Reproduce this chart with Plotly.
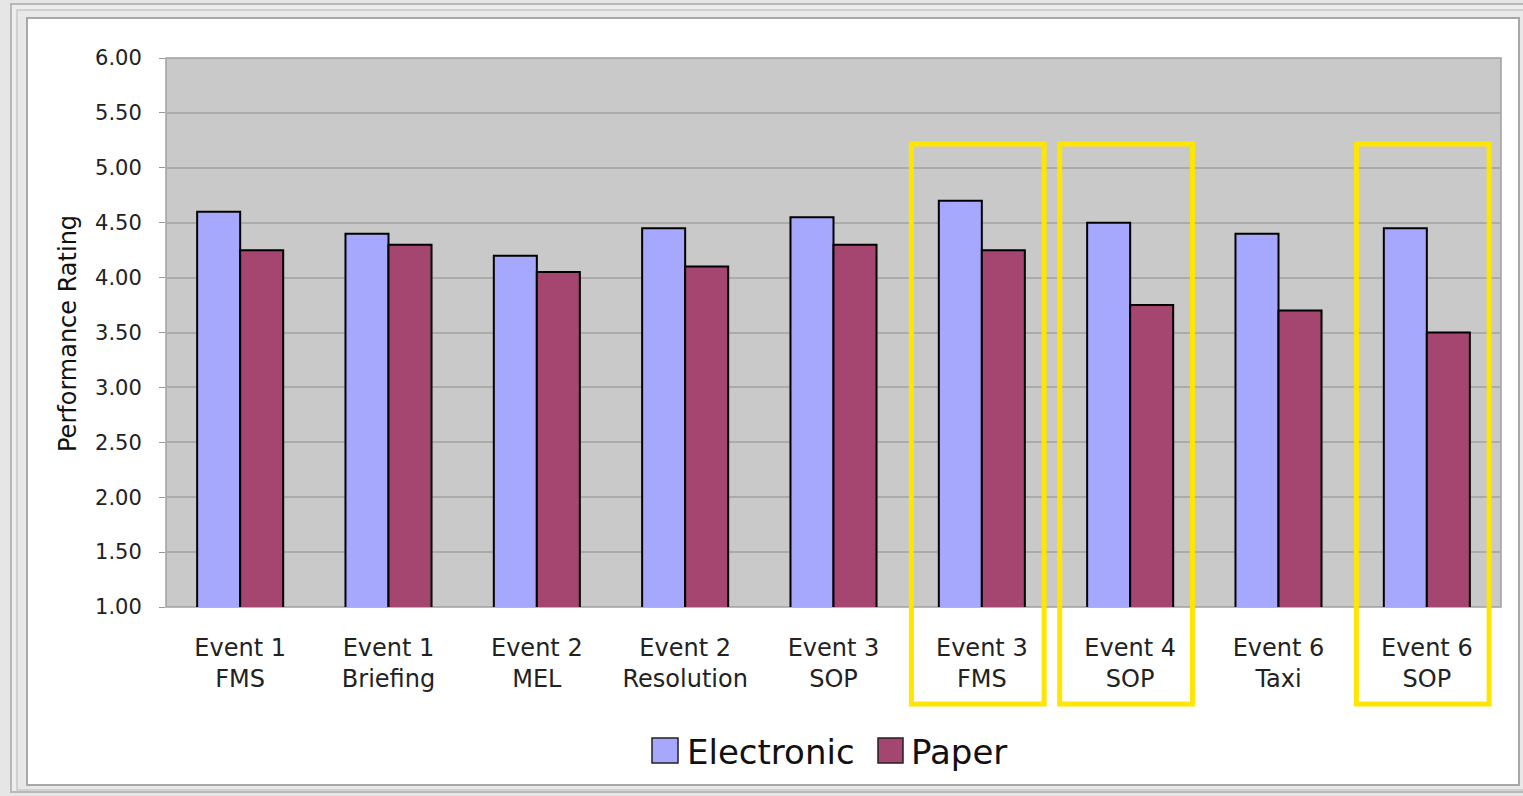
import plotly.graph_objects as go

categories = ["Event 1<br>FMS", "Event 1<br>Briefing", "Event 2<br>MEL", "Event 2<br>Resolution",
              "Event 3<br>SOP", "Event 3<br>FMS", "Event 4<br>SOP", "Event 6<br>Taxi", "Event 6<br>SOP"]
electronic = [4.60, 4.40, 4.20, 4.45, 4.55, 4.70, 4.50, 4.40, 4.45]
paper = [4.25, 4.30, 4.05, 4.10, 4.30, 4.25, 3.75, 3.70, 3.50]
y_ticks = [1.0, 1.5, 2.0, 2.5, 3.0, 3.5, 4.0, 4.5, 5.0, 5.5, 6.0]
highlighted = [5, 6, 8]

W, H = 1523, 796
L, R, T, B = 166, 1501, 58, 607


def px(x):
    return (x - L) / (R - L)


def py(y):
    return (B - y) / (B - T)


E_COL = "#A6A8FE"
P_COL = "#A54670"
FONT = "DejaVu Sans"

fig = go.Figure()
fig.add_trace(go.Bar(x=categories, y=electronic, name="Electronic", marker_color=E_COL,
                     marker_line=dict(color="#000000", width=2), showlegend=False))
fig.add_trace(go.Bar(x=categories, y=paper, name="Paper", marker_color=P_COL,
                     marker_line=dict(color="#000000", width=2), showlegend=False))

shapes = []
# outer frame
shapes.append(dict(type="rect", xref="paper", yref="paper", x0=px(11), x1=px(1530), y0=py(4), y1=py(792),
                   line=dict(color="#B8B8B8", width=2), fillcolor="#EDEDED", layer="below"))
shapes.append(dict(type="rect", xref="paper", yref="paper", x0=px(17), x1=px(1530), y0=py(10), y1=py(790),
                   line=dict(color="#C8C8C8", width=1.5), fillcolor="#E8E8E8", layer="below"))
# white chart box
shapes.append(dict(type="rect", xref="paper", yref="paper", x0=px(27), x1=px(1519), y0=py(18), y1=py(785),
                   line=dict(color="#A8A8A8", width=2), fillcolor="#FFFFFF", layer="below"))
# plot area
shapes.append(dict(type="rect", xref="paper", yref="paper", x0=0, x1=1, y0=0, y1=1,
                   line=dict(color="#A0A0A0", width=1.5), fillcolor="#C9C9C9", layer="below"))
# highlight boxes
for idx in highlighted:
    shapes.append(dict(type="rect", xref="x", yref="paper", x0=idx - 0.475, x1=idx + 0.42,
                       y0=py(704), y1=py(144), line=dict(color="#FFE600", width=5),
                       fillcolor="rgba(0,0,0,0)", layer="above"))
# legend swatches
shapes.append(dict(type="rect", xref="paper", yref="paper", x0=px(652), x1=px(678), y0=py(763), y1=py(738),
                   line=dict(color="#222222", width=1.5), fillcolor=E_COL))
shapes.append(dict(type="rect", xref="paper", yref="paper", x0=px(878), x1=px(903), y0=py(763), y1=py(738),
                   line=dict(color="#222222", width=1.5), fillcolor=P_COL))

annotations = [
    dict(text="Performance Rating", xref="paper", yref="paper", x=px(68), y=py(334), textangle=-90,
         showarrow=False, xanchor="center", yanchor="middle", font=dict(family=FONT, size=24, color="#111111")),
    dict(text="Electronic", xref="paper", yref="paper", x=px(685), y=py(752), showarrow=False,
         xanchor="left", yanchor="middle", font=dict(family=FONT, size=34, color="#111111")),
    dict(text="Paper", xref="paper", yref="paper", x=px(909), y=py(752), showarrow=False,
         xanchor="left", yanchor="middle", font=dict(family=FONT, size=34, color="#111111")),
]

fig.update_layout(
    width=W, height=H,
    margin=dict(l=L, r=W - R, t=T, b=H - B, pad=0),
    paper_bgcolor="#E6E6E6",
    plot_bgcolor="rgba(0,0,0,0)",
    barmode="group", bargap=0.42, bargroupgap=0,
    showlegend=False,
    shapes=shapes,
    annotations=annotations,
    xaxis=dict(showgrid=False, showline=False, ticks="", tickfont=dict(family=FONT, size=24, color="#222222"),
               ticklabelstandoff=24),
    yaxis=dict(range=[1, 6], tickvals=y_ticks, ticktext=[f"{v:.2f}" for v in y_ticks],
               showgrid=True, gridcolor="#ABABAB", gridwidth=1.5, zeroline=False, showline=False,
               ticks="outside", ticklen=6, tickcolor="#999999",
               tickfont=dict(family=FONT, size=21, color="#222222"), ticklabelstandoff=13),
)

fig.write_html("out.html")
